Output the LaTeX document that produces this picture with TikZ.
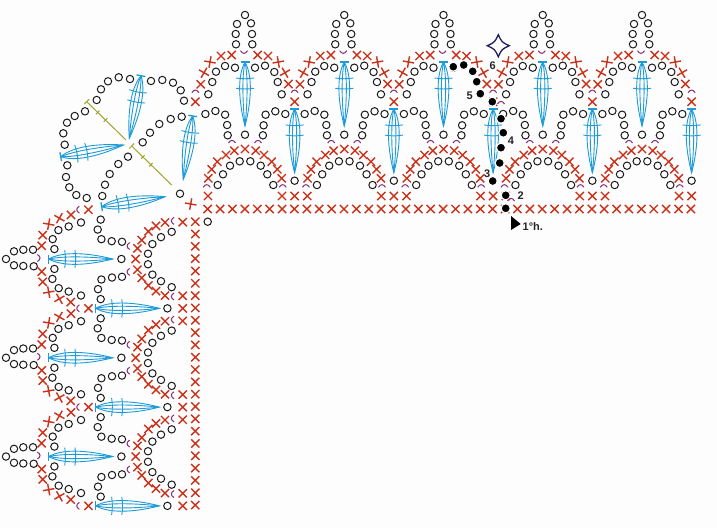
\documentclass[tikz,border=0pt]{standalone}
\usepackage{fontspec}
\setmainfont{Liberation Sans}
\usetikzlibrary{calc,shapes.misc}
\definecolor{paper}{HTML}{FDFDFD}
\definecolor{stitch}{HTML}{CB3019}
\definecolor{lensblue}{HTML}{1C9BD8}
\definecolor{hookpurple}{HTML}{8A2A78}
\definecolor{slingolive}{HTML}{A3A52A}
\definecolor{starnavy}{HTML}{1C1C5E}
\tikzset{
	xst/.style={cross out, draw=stitch, line width=1.4pt, minimum size=6.8pt, inner sep=0pt},
	ch/.style={circle, draw=black!90, line width=1pt, minimum size=7.4pt, inner sep=0pt},
	dotst/.style={circle, fill=black, draw=paper, line width=1.2pt, minimum size=9.2pt, inner sep=0pt},
	lens/.style={draw=lensblue, line width=.9pt},
	hook/.style={draw=hookpurple, line width=1pt},
	sling/.style={draw=slingolive, line width=1pt},
	num/.style={font=\bfseries\fontsize{11}{12}\selectfont, text=black!85, inner sep=0pt}
}
% long stitch: bar on the first point, tip on the second
\newcommand{\fan}[2]{%
	\coordinate (ft) at (#1);
	\coordinate (fb) at (#2);
	\draw[lens] (ft) .. controls ($(ft)!.25!(fb)!9pt!90:(fb)$) and ($(ft)!.7!(fb)!5pt!90:(fb)$) .. (fb)
		.. controls ($(ft)!.7!(fb)!5pt!-90:(fb)$) and ($(ft)!.25!(fb)!9pt!-90:(fb)$) .. (ft);
	\draw[lens] (ft) .. controls ($(ft)!.25!(fb)!3.5pt!90:(fb)$) and ($(ft)!.7!(fb)!2pt!90:(fb)$) .. (fb)
		.. controls ($(ft)!.7!(fb)!2pt!-90:(fb)$) and ($(ft)!.25!(fb)!3.5pt!-90:(fb)$) .. (ft);
	\draw[lens, line width=1.3pt] ($(ft)!4.5pt!90:(fb)$) -- ($(ft)!4.5pt!-90:(fb)$);
	\foreach \t in {.25,.41}
		\draw[lens] ($(ft)!\t!(fb)!9pt!90:(fb)$) to[bend left=8] ($(ft)!\t!(fb)!9pt!-90:(fb)$);
}
\newcommand{\hookat}[3]{\draw[hook] ({#1-3.5},#2) .. controls ({#1-1.5},{#2+#3}) and ({#1+1.5},{#2+#3}) .. ({#1+3.5},#2);}
\newcommand{\valley}[1]{%
	\node[xst] at (#1,101.7) {};
	\hookat{#1}{92.7}{-3.5}
}
% one repeat of the edging, #1 = circles of the picot
\newcommand{\edging}[1]{%
	\foreach \a/\b in #1
		\node[ch] at (\a,\b) {};
	\hookat{-1}{50.7}{3.5}
	\foreach \a/\b/\r in {-13.3/55/0,-24/56/0,-35/62/35,-41/72.7/15,-44.3/84.3/0,12.7/55/0,23/56/0,33.3/62/-35,40/72.7/-15,43.3/84/0}
		\node[xst, rotate=\r] at (\a,\b) {};
	\foreach \a/\b in {-10/67.7,-20/66,-29/71.7,-32.7/82,-36.7/94.3,10/67.7,20/65.7,29.3/72,32.7/82,36.7/94.3,0/134.7}
		\node[ch] at (\a,\b) {};
	\fan{0,62}{0,126}
	% arch
	\foreach \a/\b in {0/149,-10.7/150.7,10.7/150.7,-19/155,19/155,-27.7/161.7,26.7/161.7,-33.3/169.3,32.3/169.3,-36.7/178.3,36.7/178.3,-37/196,37/196,49.6/196}
		\node[xst] at (\a,\b) {};
	\foreach \a/\b in {-5.3/161.3,5.3/161.3,-15/165.7,15.7/165.7,-22/174.3,22.3/174.3,-27.3/185,28.3/185}
		\node[ch] at (\a,\b) {};
	\hookat{-13}{143}{-3.5}
	\hookat{13}{143}{-3.5}
	\hookat{-38.3}{187.3}{-3.5}
	\hookat{37.7}{187.3}{-3.5}
	% lower row on both sides
	\foreach \a/\b in {-39.6/114,-29.6/111,-19.9/114.7,-17.9/125,-17.3/135.3,40.3/114,30.3/111.3,20.6/114.7,18.6/125.3,17.9/135.3,49.6/180.7}
		\node[ch] at (\a,\b) {};
	\fan{49.6,109}{49.6,172.7}
	\valley{49.6}
}
\newcommand{\topunit}{0/15,-8/24,6/23.3,-9.3/34,7/34,-9/44.3,7.3/44.3}
\newcommand{\leftunit}{0/19.3,-7.7/27.3,-9.3/36.6,-9.3/46.3,6.3/27.3,7/36.6,7.3/47}
% corner line with its ticks
\newcommand{\slingline}[2]{%
	\coordinate (sa) at (#1);
	\coordinate (sb) at (#2);
	\draw[sling] (sa) -- (sb);
	\draw[sling] ($(sa)!3.5pt!90:(sb)$) -- ($(sa)!3.5pt!-90:(sb)$);
	\foreach \t in {.28,.48}
		\draw[sling] ($(sa)!\t!(sb)!2.5pt!90:(sb)$) -- ($(sa)!\t!(sb)!2.5pt!-90:(sb)$);
}
\begin{document}
\begin{tikzpicture}[x=1pt,y=-1pt]
	\fill[paper] (0,0) rectangle (717,528);
	\useasboundingbox (0,0) rectangle (717,528);
	% foundation rows
	\foreach \i in {0,...,39}
		\node[xst] at ({207.7+12.39*\i},209) {};
	\foreach \i in {0,...,23}
		\node[xst] at (195.3,{221.7+12.32*\i}) {};
	% top edge
	\foreach \c in {245,344.25,443.5,542.75,642}{
		\begin{scope}[shift={(\c,0)}]
			\edging{\topunit}
		\end{scope}
	}
	\begin{scope}[shift={(245,0)}]
		\valley{-49.6}
	\end{scope}
	% left edge, same repeat laid on its side
	\foreach \c in {259,357.75,456.5}{
		\begin{scope}[shift={(-13.3,\c)},x={(0pt,-.995pt)},y={(1pt,0pt)}]
			\edging{\leftunit}
		\end{scope}
	}
	\begin{scope}[shift={(-13.3,259)},x={(0pt,-.995pt)},y={(1pt,0pt)}]
		\valley{-49.6}
	\end{scope}
	% corner
	\fan{141,75.7}{129.3,138.3}
	\fan{192.7,116}{183.3,179.3}
	\fan{60.7,156.7}{123.3,145}
	\fan{101.7,206.7}{165,196.7}
	\slingline{86.7,101.7}{126,140}
	\slingline{131.7,146}{171.7,185}
	\foreach \a/\b in {96.7/100,101/89.3,108/81.3,118.7/77.3,130/79,151/81,162.3/80,173/82.7,180.7/90.3,184/100.7,
		181.7/116.7,170.7/119,159.3/124,150/132.7,142.7/142.3,
		85/111.3,74.7/116,67/122.7,63.3/133.3,64.7/144.7,67.3/165.3,66/177,69.3/187.3,76.3/195,86.7/198,
		128/156.7,118.3/164,109.7/174,105/184.7,102.3/196,180/193.7,207.7/221.7}
		\node[ch] at (\a,\b) {};
	\node[xst, rotate=35] (cornerx) at (190.7,204) {};
	% marked round
	\foreach \a/\b [count=\i] in {505.7/208.3,505.7/195.3,492.7/181,499.7/163,501/147.7,503.3/132.7,501/118.7,492.3/101.7,480.3/93.7,476.7/81.7,472.7/71.3,463.7/65,453.3/66.7}
		\node[dotst] (d\i) at (\a,\b) {};
	\hookat{511}{201}{-3.5}
	\hookat{501}{104}{-3.5}
	\node[num] (n2) at (520.7,196) {2};
	\node[num] (n3) at (487.3,173.3) {3};
	\node[num] (n4) at (511,140.7) {4};
	\node[num] (n5) at (469.7,95.7) {5};
	\node[num] (n6) at (492.7,66) {6};
	\node[num, anchor=west] (start) at (522.5,226.7) {1°h.};
	\fill[black] (511,216) -- (511,230) -- (520.7,224) -- cycle;
	% star
	\coordinate (star) at (498.3,45.7);
	\draw[starnavy, line width=1.3pt, line join=miter] ($(star)+(0,-11)$) .. controls ($(star)+(3.5,-3.5)$) .. ($(star)+(11,0)$)
		.. controls ($(star)+(3.5,3.5)$) .. ($(star)+(0,11)$)
		.. controls ($(star)+(-3.5,3.5)$) .. ($(star)+(-11,0)$)
		.. controls ($(star)+(-3.5,-3.5)$) .. cycle;
\end{tikzpicture}
\end{document}
